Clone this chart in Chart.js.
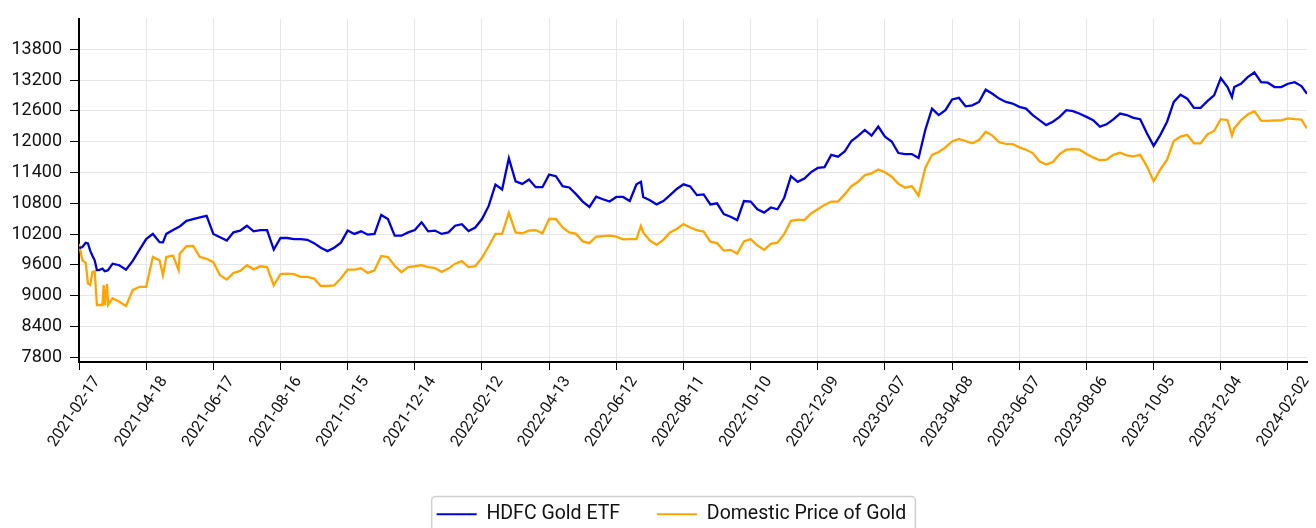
<!DOCTYPE html>
<html>
<head>
    <meta charset="utf-8">
    <title>HDFC Gold ETF vs Domestic Price of Gold</title>
    <script src="https://cdn.jsdelivr.net/npm/chart.js"></script>
    <style>
        html, body { margin: 0; padding: 0; background: #fff; overflow: hidden; }
        #wrap { width: 1316px; height: 534px; }
    </style>
</head>
<body>
    <div id="wrap"><canvas id="gold-chart"></canvas></div>

    <script>
        // day offsets from the first date (mostly every 6 days, a few extra at spikes)
        const startDate = '2021-02-17';
        const dayOffsets = [
            0, 3, 6, 8, 10, 12, 14, 16, 18, 21, 22, 23, 25, 26, 30, 36, 42, 48, 54,
            60, 66, 72, 75, 78, 84, 89, 90, 96, 102, 108, 114,
            120, 126, 132, 138, 144, 150, 156, 162, 168, 174,
            180, 186, 192, 198, 204, 210, 216, 222, 228, 234,
            240, 246, 252, 258, 264, 270, 276, 282, 288, 294,
            300, 306, 312, 318, 324, 330, 336, 342, 348, 354,
            360, 366, 372, 378, 384, 390, 396, 402, 408, 414,
            420, 426, 432, 438, 444, 450, 456, 462, 468, 474,
            480, 486, 492, 498, 502, 504, 510, 516, 522, 528, 534,
            540, 546, 552, 558, 564, 570, 576, 582, 588, 594,
            600, 606, 612, 618, 624, 630, 636, 642, 648, 654,
            660, 666, 672, 678, 684, 690, 696, 702, 708, 714,
            720, 726, 732, 738, 744, 750, 756, 762, 768, 774,
            780, 786, 792, 798, 804, 810, 816, 822, 828, 834,
            840, 846, 852, 858, 864, 870, 876, 882, 888, 894,
            900, 906, 912, 918, 924, 930, 936, 942, 948, 954,
            960, 966, 972, 978, 984, 990, 996, 1002, 1008, 1014,
            1020, 1026, 1030, 1032, 1038, 1044, 1050, 1056, 1062, 1068, 1074,
            1080, 1086, 1092, 1097
        ];

        const etfValues = [
            9930, 9950, 10030, 10020, 9880, 9780, 9690, 9500, 9500, 9530, 9500, 9480, 9490, 9500, 9625, 9595, 9510, 9680, 9895,
            10105, 10205, 10045, 10040, 10205, 10280, 10340, 10350, 10460, 10495, 10525, 10555,
            10205, 10140, 10075, 10235, 10270, 10365, 10255, 10280, 10280, 9900,
            10125, 10125, 10105, 10105, 10090, 10025, 9935, 9870, 9935, 10035,
            10270, 10205, 10255, 10190, 10205, 10575, 10495, 10170, 10170, 10235,
            10280, 10430, 10255, 10270, 10205, 10235, 10365, 10395, 10260, 10330,
            10495, 10750, 11165, 11070, 11680, 11230, 11180, 11265, 11115, 11115,
            11360, 11330, 11135, 11110, 10980, 10835, 10730, 10930, 10880, 10835,
            10925, 10925, 10845, 11170, 11220, 10925, 10860, 10780, 10845, 10960, 11080,
            11170, 11130, 10960, 10975, 10780, 10800, 10590, 10540, 10475, 10845,
            10835, 10685, 10620, 10720, 10685, 10910, 11330, 11220, 11285, 11410,
            11490, 11505, 11745, 11710, 11810, 12015, 12115, 12230, 12120, 12295,
            12100, 12005, 11780, 11760, 11760, 11685, 12230, 12645, 12520, 12615,
            12825, 12855, 12690, 12710, 12775, 13015, 12935, 12840, 12775, 12745,
            12680, 12645, 12520, 12420, 12325, 12390, 12485, 12615, 12595, 12545,
            12485, 12420, 12295, 12340, 12435, 12550, 12520, 12465, 12440, 12165,
            11920, 12135, 12390, 12775, 12915, 12840, 12660, 12660, 12790, 12905,
            13240, 13065, 12870, 13065, 13130, 13260, 13350, 13160, 13150, 13065, 13065,
            13130, 13160, 13085, 12935
        ];

        const goldValues = [
            10010, 9690, 9640, 9240, 9210, 9460, 9480, 8820, 8820, 8820, 9210, 8820, 9230, 8820, 8950, 8885, 8800, 9110, 9175,
            9175, 9755, 9690, 9400, 9755, 9785, 9500, 9820, 9965, 9970, 9755, 9720,
            9655, 9400, 9315, 9445, 9485, 9595, 9515, 9575, 9560, 9205,
            9420, 9430, 9420, 9370, 9370, 9335, 9190, 9190, 9200, 9340,
            9510, 9510, 9535, 9445, 9495, 9775, 9755, 9585, 9460, 9560,
            9575, 9595, 9560, 9540, 9465, 9530, 9625, 9675, 9560, 9575,
            9740, 9965, 10205, 10205, 10620, 10235, 10215, 10270, 10280, 10215,
            10495, 10495, 10330, 10235, 10205, 10060, 10025, 10150, 10160, 10170,
            10150, 10100, 10105, 10105, 10360, 10235, 10075, 9990, 10090, 10235, 10300,
            10395, 10330, 10280, 10250, 10055, 10025, 9880, 9895, 9820, 10060,
            10105, 9980, 9895, 10010, 10035, 10205, 10460, 10485, 10475, 10605,
            10685, 10770, 10835, 10835, 10975, 11135, 11220, 11350, 11385, 11460,
            11405, 11320, 11180, 11105, 11135, 10950, 11490, 11745, 11800, 11890,
            12005, 12055, 12015, 11970, 12035, 12195, 12120, 11990, 11960, 11955,
            11890, 11845, 11780, 11620, 11555, 11605, 11760, 11845, 11855, 11845,
            11760, 11695, 11640, 11650, 11745, 11785, 11735, 11715, 11745, 11520,
            11230, 11460, 11650, 12015, 12100, 12135, 11970, 11970, 12145, 12210,
            12440, 12420, 12120, 12260, 12420, 12530, 12595, 12410, 12405, 12415, 12415,
            12455, 12440, 12430, 12260
        ];

        const yTicks = [7800, 8400, 9000, 9600, 10200, 10800, 11400, 12000, 12600, 13200, 13800];
        const xTicks = [0, 60, 120, 180, 240, 300, 360, 420, 480, 540, 600, 660, 720, 780, 840, 900, 960, 1020, 1080];

        function dayToDate(d) {
            const t = Date.parse(startDate + 'T00:00:00Z') + d * 86400000;
            return new Date(t).toISOString().slice(0, 10);
        }

        function toPoints(values) {
            return values.map((v, i) => ({ x: dayOffsets[i], y: v }));
        }

        // legend sits a little right of centre in the original, and has a grey rounded frame
        const legendFrame = {
            id: 'legendFrame',
            afterLayout(chart) {
                chart.legend.left += 18;
                chart.legend.right += 18;
            },
            afterDraw(chart) {
                const boxes = chart.legend && chart.legend.legendHitBoxes;
                if (!boxes || !boxes.length) return;
                const left = Math.min(...boxes.map(b => b.left)) - 5;
                const right = Math.max(...boxes.map(b => b.left + b.width)) + 9;
                const top = Math.min(...boxes.map(b => b.top)) - 8;
                const bottom = Math.max(...boxes.map(b => b.top + b.height)) + 10;
                const c = chart.ctx;
                c.save();
                c.strokeStyle = '#cfcfcf';
                c.lineWidth = 1.5;
                c.beginPath();
                c.roundRect(left, top, right - left, bottom - top, 4);
                c.stroke();
                c.restore();
            }
        };

        Chart.defaults.font.family = 'Roboto';
        Chart.defaults.font.size = 18;
        Chart.defaults.color = '#111';

        const ctx = document.getElementById('gold-chart').getContext('2d');
        new Chart(ctx, {
            type: 'line',
            data: {
                datasets: [
                    {
                        label: 'HDFC Gold ETF',
                        data: toPoints(etfValues),
                        borderColor: '#0000dd',
                        backgroundColor: '#0000dd',
                        borderWidth: 2.3,
                        pointRadius: 0,
                        tension: 0
                    },
                    {
                        label: 'Domestic Price of Gold',
                        data: toPoints(goldValues),
                        borderColor: '#ffa500',
                        backgroundColor: '#ffa500',
                        borderWidth: 2.3,
                        pointRadius: 0,
                        tension: 0
                    }
                ]
            },
            options: {
                responsive: true,
                maintainAspectRatio: false,
                animation: false,
                layout: {
                    autoPadding: false,
                    padding: { top: 14, right: 9, left: 0, bottom: 0 }
                },
                plugins: {
                    tooltip: { enabled: false },
                    legend: {
                        position: 'bottom',
                        labels: {
                            boxWidth: 40,
                            boxHeight: 2,
                            padding: 37,
                            color: '#111',
                            font: { size: 19.5 },
                            generateLabels: chart =>
                                Chart.defaults.plugins.legend.labels.generateLabels(chart)
                                    .map(item => Object.assign(item, { lineWidth: 0 }))
                        }
                    }
                },
                scales: {
                    x: {
                        type: 'linear',
                        min: 0,
                        max: 1097,
                        afterBuildTicks: scale => { scale.ticks = xTicks.map(v => ({ value: v })); },
                        afterFit: scale => { scale.height = 105.5; },
                        ticks: {
                            minRotation: 56,
                            maxRotation: 56,
                            padding: 3,
                            labelOffset: 18,
                            font: { size: 16 },
                            callback: v => dayToDate(v)
                        },
                        grid: { color: '#e6e6e6', tickColor: '#000', tickLength: 8 },
                        border: { color: '#000', width: 2 }
                    },
                    y: {
                        min: 7710,
                        max: 14395,
                        afterBuildTicks: scale => { scale.ticks = yTicks.map(v => ({ value: v })); },
                        afterFit: scale => { scale.width = 79; },
                        ticks: { padding: 8, callback: v => String(v) },
                        grid: { color: '#e6e6e6', tickColor: '#000', tickLength: 9 },
                        border: { color: '#000', width: 2 }
                    }
                }
            },
            plugins: [legendFrame]
        });
    </script>
</body>
</html>
